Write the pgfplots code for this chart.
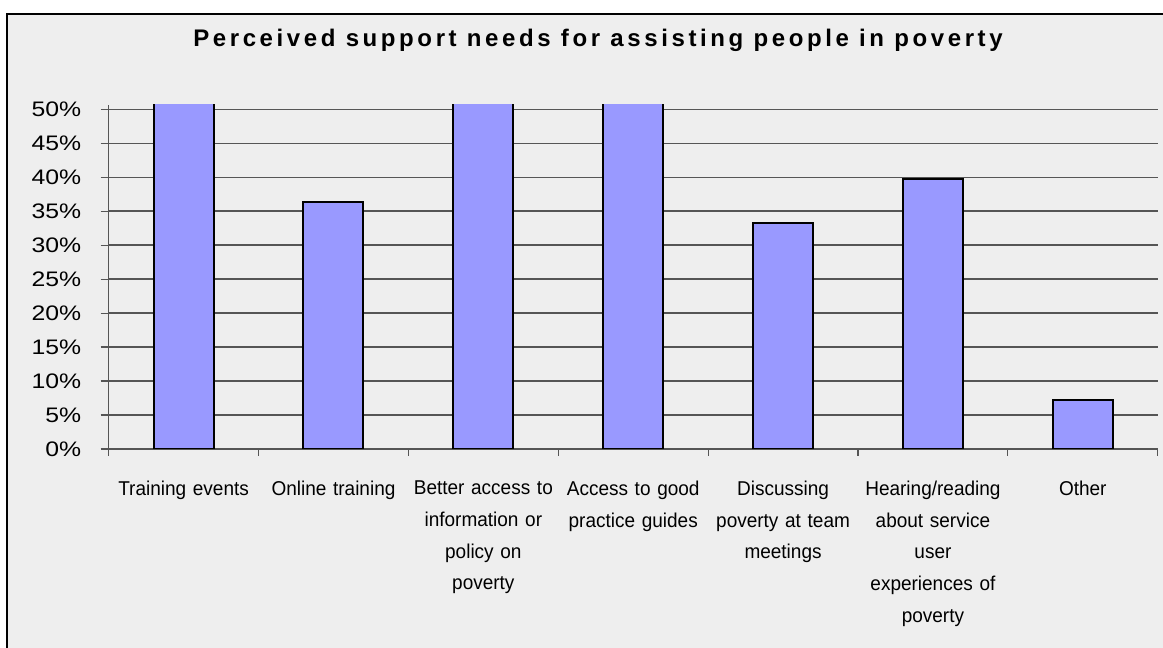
\documentclass[border=0pt]{standalone}
\usepackage{fontspec}
\setmainfont{Liberation Sans}
\newfontfamily\titlefont[LetterSpace=15]{Liberation Sans}
\newfontfamily\tickfont[FakeStretch=1.18]{Liberation Sans}
\newfontfamily\catfont[FakeStretch=0.95]{Liberation Sans}
\usepackage{pgfplots}
\pgfplotsset{compat=1.18}
\definecolor{barblue}{HTML}{9999FF}
\definecolor{bg}{HTML}{EEEEEE}
\definecolor{gridc}{HTML}{555555}
\begin{document}
\begin{tikzpicture}[x=1pt,y=1pt]
\useasboundingbox (0,0) rectangle (1163,648);
\fill[white] (0,0) rectangle (1163,648);
\fill[bg] (7,0) rectangle (1163,634);
\draw[black, line width=2pt] (7,0) -- (7,634) -- (1163,634);
\node[anchor=base, font=\titlefont\bfseries\fontsize{24}{28}\selectfont] at (598,601) {Perceived support needs for assisting people in poverty};
\begin{axis}[
  at={(108.7pt,199pt)}, anchor=south west,
  scale only axis, width=1049pt, height=344pt,
  ymin=0, ymax=50.63, xmin=-0.5, xmax=6.5,
  ybar, bar width=60pt,
  axis x line*=bottom, axis y line*=left,
  axis line style={-, draw=gridc, line width=1.3pt},
  ytick={0,5,...,50},
  yticklabel={\pgfmathprintnumber{\tick}\%},
  /pgf/number format/assume math mode=true,
  ymajorgrids, major grid style={draw=gridc, line width=1.4pt},
  tick align=outside,
  major tick length=8pt, minor tick length=7pt,
  ytick style={draw=gridc, line width=1.2pt},
  major x tick style={draw=none},
  minor xtick={-0.5,0.5,...,6.5},
  minor x tick style={draw=gridc, line width=1.2pt},
  xtick={0,...,6},
  xticklabels={{Training events},{Online training},{Better access to\\information or\\policy on\\poverty},{Access to good\\practice guides},{Discussing\\poverty at team\\meetings},{Hearing/reading\\about service\\user\\experiences of\\poverty},{Other}},
  xticklabel style={anchor=north, align=center, text width=150pt, font=\catfont\fontsize{20}{31.7}\selectfont, yshift=-20.5pt},
  yticklabel style={anchor=east, font=\tickfont\fontsize{21}{24}\selectfont, xshift=-16pt},
]
\addplot[fill=barblue, draw=black, line width=2pt] coordinates {(0,55) (1,36.3) (2,55) (3,55) (4,33.2) (5,39.75) (6,7.25)};
\end{axis}
\end{tikzpicture}
\end{document}
